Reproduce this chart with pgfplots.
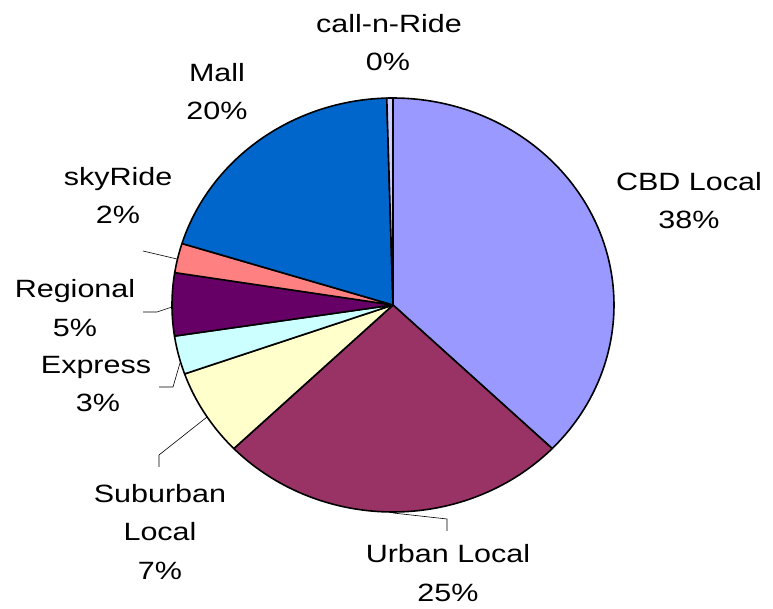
\documentclass[border=0pt]{standalone}
\usepackage{fontspec}
\setmainfont{Liberation Sans}[FakeStretch=1.22]
\usepackage{pgfplots}
\usepackage{pgfplotstable}
\pgfplotsset{compat=1.18}
\definecolor{c0}{HTML}{9999FF}
\definecolor{c1}{HTML}{993366}
\definecolor{c2}{HTML}{FFFFCC}
\definecolor{c3}{HTML}{CCFFFF}
\definecolor{c4}{HTML}{660066}
\definecolor{c5}{HTML}{FF8080}
\definecolor{c6}{HTML}{0066CC}
\definecolor{c7}{HTML}{CCCCFF}
\pgfplotstableread{
name value
CBDLocal 37.2
UrbanLocal 25.6
SuburbanLocal 6.8
Express 3.0
Regional 4.9
skyRide 2.3
Mall 19.75
callnRide 0.45
}\piedata
\begin{document}
\begin{tikzpicture}
\begin{axis}[width=773pt,height=609pt,scale only axis,
  xmin=0,xmax=773,ymin=0,ymax=609,hide axis,clip=false]
\def\startang{0}
\pgfplotsforeachungrouped \i in {0,...,7}{%
  \pgfplotstablegetelem{\i}{value}\of\piedata
  \pgfmathsetmacro\endang{\startang+3.6*\pgfplotsretval}%
  \edef\cmd{\noexpand\addplot[fill=c\i,draw=black,line width=1.6pt,line join=round,domain=\startang:\endang,samples=80] ({393+221*sin(x)},{304+207*cos(x)}) -- (axis cs:393,304) -- cycle;}%
  \cmd
  \global\let\startang\endang
}
% leader lines
\draw[black,line width=0.6pt] (axis cs:143,358) -- (axis cs:177,350);
\draw[black,line width=0.6pt] (axis cs:143,297) -- (axis cs:157,297) -- (axis cs:172,302);
\draw[black,line width=0.6pt] (axis cs:159,222) -- (axis cs:173,222) -- (axis cs:180,246);
\draw[black,line width=0.6pt] (axis cs:159,142) -- (axis cs:159,154) -- (axis cs:207,192);
\draw[black,line width=0.6pt] (axis cs:393,96) -- (axis cs:447,90) -- (axis cs:447,78);
% labels
\tikzset{lbl/.style={anchor=base,inner sep=0pt,font=\fontsize{25}{30}\selectfont}}
\node[lbl] at (axis cs:389,576) {call-n-Ride};
\node[lbl] at (axis cs:388,538) {0\%};
\node[lbl] at (axis cs:217,527) {Mall};
\node[lbl] at (axis cs:217,489) {20\%};
\node[lbl] at (axis cs:689,418) {CBD Local};
\node[lbl] at (axis cs:689,380) {38\%};
\node[lbl] at (axis cs:118,423) {skyRide};
\node[lbl] at (axis cs:118,385) {2\%};
\node[lbl] at (axis cs:75,311) {Regional};
\node[lbl] at (axis cs:75,272) {5\%};
\node[lbl] at (axis cs:96,235) {Express};
\node[lbl] at (axis cs:98,197) {3\%};
\node[lbl] at (axis cs:160,106) {Suburban};
\node[lbl] at (axis cs:160,68) {Local};
\node[lbl] at (axis cs:160,29) {7\%};
\node[lbl] at (axis cs:448,46) {Urban Local};
\node[lbl] at (axis cs:448,7) {25\%};
\path (axis cs:0,0) (axis cs:773,609);
\end{axis}
\end{tikzpicture}
\end{document}
